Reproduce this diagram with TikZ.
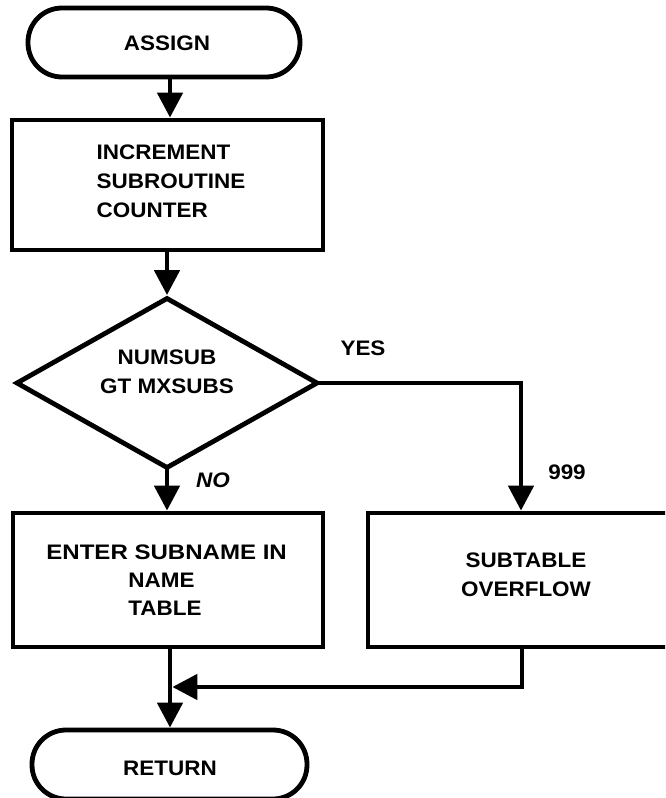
\documentclass[tikz,border=0pt]{standalone}
\usepackage{fontspec}
\setmainfont{Liberation Sans}[FakeStretch=1.07]
\usetikzlibrary{shapes.geometric,arrows.meta}

\begin{document}
\begin{tikzpicture}[x=1pt,y=-1pt,
  line width=4.8pt,
  flow/.style={-{Triangle[length=25pt,width=25pt]}},
  txt/.style={font=\fontsize{21}{29}\selectfont\bfseries},
  terminal/.style={draw,rounded corners=34pt,inner sep=0pt},
  procbox/.style={draw,inner sep=0pt},
  decision/.style={draw,diamond,inner sep=0pt},
  lbl/.style={txt,inner sep=0pt}]
  % page frame; the right-hand box runs past the edge and is cut off
  \clip (0,0) rectangle (665,798);

  % shapes
  \node[terminal,minimum width=272pt,minimum height=69pt] (assign) at (164,42.5) {};
  \node[txt] at (167,43) {ASSIGN};

  \node[procbox,minimum width=311pt,minimum height=130pt] (inc) at (167.5,185) {};
  \node[txt,align=left] at (171,181) {INCREMENT\\SUBROUTINE\\COUNTER};

  \node[decision,minimum width=302pt,minimum height=171pt] (test) at (167,383) {};
  \node[txt,align=center] at (167,372) {NUMSUB\\GT MXSUBS};

  \node[procbox,minimum width=310pt,minimum height=134pt] (enter) at (168,580) {};
  \node[txt,anchor=west,inner sep=0pt] at (44,552) {\scalebox{1.07}[1]{ENTER SUBNAME IN}};
  \node[txt,align=left,anchor=north west,inner sep=0pt] at (126,571) {NAME\\[-1pt]TABLE};

  \node[procbox,minimum width=320pt,minimum height=134pt] (over) at (528,580) {};
  \node[txt,align=center] at (526,575) {SUBTABLE\\OVERFLOW};

  \node[terminal,minimum width=275pt,minimum height=69pt] (ret) at (169.5,764.5) {};
  \node[txt] at (170,768) {RETURN};

  % connector end points
  \coordinate (yesturn) at (521,383);
  \coordinate (overdrop) at (522,687);
  \coordinate (join) at (170,687);

  % connectors
  \draw[flow] (assign.south -| 170,0) -- (inc.north -| 170,0);
  \draw[flow] (inc.south -| test.north) -- (test.north);
  \draw[flow,shorten <=-6pt] (test.south) -- (enter.north -| test.south);
  \draw[flow,shorten <=-4pt] (test.east) -- (yesturn) -- (over.north -| yesturn);
  \draw[flow] (enter.south -| join) -- (ret.north -| join);
  \draw[flow] (over.south -| overdrop) -- (overdrop) -- ([xshift=2.4pt]join);

  % branch labels
  \node[lbl] at (363,348) {YES};
  \node[lbl] at (213,480) {\itshape NO};
  \node[lbl] at (567,472) {999};
\end{tikzpicture}
\end{document}
